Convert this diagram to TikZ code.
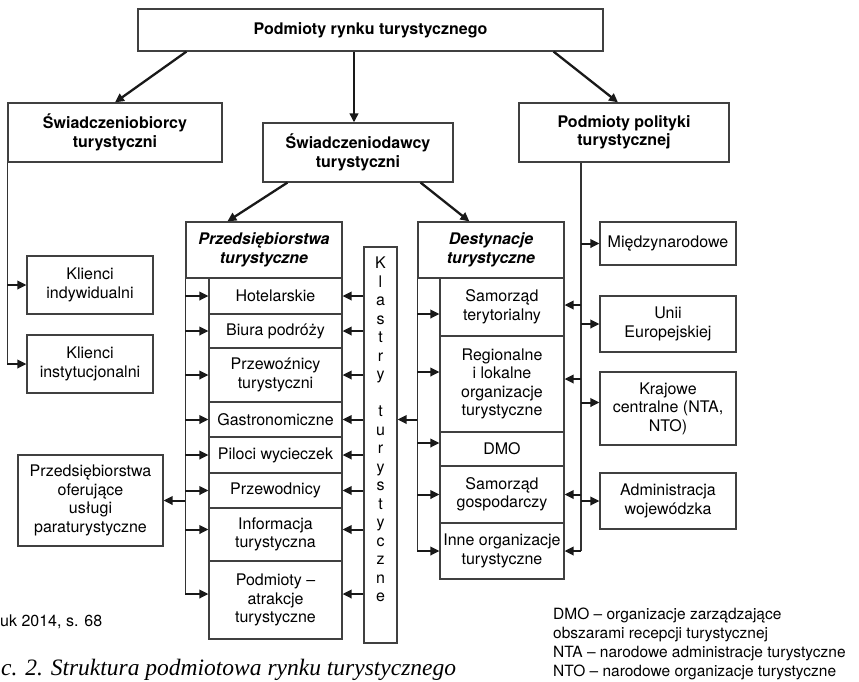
\documentclass[tikz,border=0pt]{standalone}
\usepackage{fontspec}
\setmainfont{TeX Gyre Heros}
\newfontfamily\capfont{Liberation Serif}
\usetikzlibrary{arrows.meta}

\begin{document}
\begin{tikzpicture}[x=1pt, y=-1pt,
    every node/.style={font=\fontsize{16}{18.5}\selectfont, inner sep=0pt, align=center},
    box/.style={draw=black!75, line width=1.2pt, fill=white},
    head/.style={box, font=\fontsize{16}{18.5}\selectfont\bfseries},
    trunk/.style={draw=black!80, line width=1.2pt},
    arr/.style={draw=black!90, line width=2pt, -{Triangle[length=9pt, width=8.5pt]}}]
    \useasboundingbox (0,0) rectangle (859,681);

    % gora
    \node[head, minimum width=465pt, minimum height=42pt] (top) at (370.5, 30) {Podmioty rynku turystycznego};
    \node[head, minimum width=214pt, minimum height=59pt] (sb) at (115, 132.5) {Świadczeniobiorcy\\turystyczni};
    \node[head, minimum width=190pt, minimum height=59pt] (sd) at (358, 152.5) {Świadczeniodawcy\\turystyczni};
    \node[head, minimum width=210pt, minimum height=59pt] (pp) at (624, 132.5) {Podmioty polityki\\turystycznej};

    % klienci
    \node[box, minimum width=126pt, minimum height=58pt] (ki) at (90, 285) {Klienci\\indywidualni};
    \node[box, minimum width=126pt, minimum height=58pt] (kin) at (90, 364) {Klienci\\instytucjonalni};
    \node[box, minimum width=145pt, minimum height=91pt] (pou) at (90.5, 500.5) {Przedsiębiorstwa\\oferujące\\usługi\\paraturystyczne};

    % przedsiebiorstwa
    \node[head, font=\fontsize{16}{18.5}\selectfont\bfseries\itshape, minimum width=156pt, minimum height=56pt] (przed) at (264, 250) {Przedsiębiorstwa\\turystyczne};
    \node[box, minimum width=133pt, minimum height=36pt] (hot) at (275.5, 296) {Hotelarskie};
    \node[box, minimum width=133pt, minimum height=34pt] (biu) at (275.5, 331) {Biura podróży};
    \node[box, minimum width=133pt, minimum height=54pt] (prz) at (275.5, 375) {Przewoźnicy\\turystyczni};
    \node[box, minimum width=133pt, minimum height=35pt] (gas) at (275.5, 419.5) {Gastronomiczne};
    \node[box, minimum width=133pt, minimum height=36pt] (pil) at (275.5, 455) {Piloci wycieczek};
    \node[box, minimum width=133pt, minimum height=35pt] (pwd) at (275.5, 490.5) {Przewodnicy};
    \node[box, minimum width=133pt, minimum height=53pt] (inf) at (275.5, 534.5) {Informacja\\turystyczna};
    \node[box, minimum width=133pt, minimum height=78pt] (atr) at (275.5, 600) {Podmioty --\\atrakcje\\turystyczne};

    % klastry
    \node[box, minimum width=33pt, minimum height=396pt] (kla) at (380.5, 445) {};
    \node[anchor=north] (klat) at (380.5, 257) {K\\l\\a\\s\\t\\r\\y\\[18.5pt]t\\u\\r\\y\\s\\t\\y\\c\\z\\n\\e};

    % destynacje
    \node[head, font=\fontsize{16}{18.5}\selectfont\bfseries\itshape, minimum width=146pt, minimum height=56pt] (dest) at (491, 250) {Destynacje\\turystyczne};
    \node[box, minimum width=124pt, minimum height=58pt] (st) at (502, 307) {Samorząd\\terytorialny};
    \node[box, minimum width=124pt, minimum height=96pt] (reg) at (502, 384) {Regionalne\\i lokalne\\organizacje\\turystyczne};
    \node[box, minimum width=124pt, minimum height=34pt] (dmo) at (502, 449) {DMO};
    \node[box, minimum width=124pt, minimum height=57pt] (sg) at (502, 494.5) {Samorząd\\gospodarczy};
    \node[box, minimum width=124pt, minimum height=56pt] (inne) at (502, 551) {Inne organizacje\\turystyczne};

    % polityka
    \node[box, minimum width=136pt, minimum height=43pt] (mie) at (668, 243.5) {Międzynarodowe};
    \node[box, minimum width=136pt, minimum height=56pt] (ue) at (668, 324) {Unii\\Europejskiej};
    \node[box, minimum width=136pt, minimum height=73pt] (kra) at (668, 408.5) {Krajowe\\centralne (NTA,\\NTO)};
    \node[box, minimum width=136pt, minimum height=56pt] (adm) at (668, 501) {Administracja\\wojewódzka};

    % opisy
    \node[anchor=base west] (src) at (0, 626) {uk 2014, s. 68};
    \node[anchor=north west, align=left, font=\fontsize{15.5}{19}\selectfont] (leg) at (553, 608) {DMO – organizacje zarządzające\\obszarami recepcji turystycznej\\NTA – narodowe administracje turystyczne\\NTO – narodowe organizacje turystyczne};
    \node[anchor=base west, font=\capfont\itshape\fontsize{23.5}{26}\selectfont] (cap) at (1, 675) {c. 2. Struktura podmiotowa rynku turystycznego};

    % punkty pomocnicze
    \coordinate (sdin) at ([xshift=-4pt]sd.north);
    \coordinate (ppt) at ([xshift=-43pt]pp.south);
    \coordinate (infl) at ([yshift=5pt]inf.west);
    \coordinate (atrl) at ([yshift=6pt]atr.west);
    \coordinate (stl) at ([yshift=-7pt]st.west);
    \coordinate (regl) at ([yshift=12pt]reg.west);
    \coordinate (dmol) at ([yshift=6pt]dmo.west);
    \coordinate (stp) at ([yshift=2pt]st.east);
    \coordinate (regp) at ([yshift=5pt]reg.east);
    \coordinate (krar) at ([yshift=6pt]kra.west);

    % strzalki glowne
    \draw[arr, line width=2.3pt] ([xshift=49pt]top.south west) -- (sb.north);
    \draw[arr, line width=2.3pt] (sdin |- top.south) -- (sdin);
    \draw[arr, line width=2.3pt] ([xshift=-50pt]top.south east) -- ([xshift=-6pt]pp.north);
    \draw[arr, line width=2.3pt] ([xshift=25pt]sd.south west) -- ([xshift=42pt]przed.north west);
    \draw[arr, line width=2.3pt] ([xshift=-33pt]sd.south east) -- ([xshift=52pt]dest.north west);

    % swiadczeniobiorcy
    \draw[trunk] (sb.south west) -- (sb.south west |- kin.west);
    \draw[arr] (sb.south west |- ki.west) -- (ki.west);
    \draw[arr] (sb.south west |- kin.west) -- (kin.west);

    % przedsiebiorstwa
    \draw[trunk] (przed.south west) -- (przed.south west |- atrl);
    \draw[arr] (przed.south west |- hot.west) -- (hot.west);
    \draw[arr] (przed.south west |- biu.west) -- (biu.west);
    \draw[arr] (przed.south west |- prz.west) -- (prz.west);
    \draw[arr] (przed.south west |- gas.west) -- (gas.west);
    \draw[arr] (przed.south west |- pil.west) -- (pil.west);
    \draw[arr] (przed.south west |- pwd.west) -- (pwd.west);
    \draw[arr] (przed.south west |- infl) -- (infl);
    \draw[arr] (przed.south west |- atrl) -- (atrl);
    \draw[arr] (przed.south west |- pou.east) -- (pou.east);

    % klastry
    \draw[arr] (kla.west |- hot.east) -- (hot.east);
    \draw[arr] (kla.west |- biu.east) -- (biu.east);
    \draw[arr] (kla.west |- prz.east) -- (prz.east);
    \draw[arr] (kla.west |- gas.east) -- (gas.east);
    \draw[arr] (kla.west |- pil.east) -- (pil.east);
    \draw[arr] (kla.west |- pwd.east) -- (pwd.east);
    \draw[arr] (kla.west |- infl) -- (inf.east |- infl);
    \draw[arr] (kla.west |- atrl) -- (atr.east |- atrl);

    % destynacje
    \draw[trunk] (dest.south west) -- (dest.south west |- inne.west);
    \draw[arr] (dest.south west |- gas.east) -- (kla.east |- gas.east);
    \draw[arr] (dest.south west |- stl) -- (stl);
    \draw[arr] (dest.south west |- regl) -- (regl);
    \draw[arr] (dest.south west |- dmol) -- (dmol);
    \draw[arr] (dest.south west |- sg.west) -- (sg.west);
    \draw[arr] (dest.south west |- inne.west) -- (inne.west);

    % polityka
    \draw[trunk] (ppt) -- (ppt |- inne.east);
    \draw[arr] (ppt |- mie.west) -- (mie.west);
    \draw[arr] (ppt |- ue.west) -- (ue.west);
    \draw[arr] (ppt |- krar) -- (krar);
    \draw[arr] (ppt |- adm.west) -- (adm.west);
    \draw[arr] (ppt |- stp) -- (stp);
    \draw[arr] (ppt |- regp) -- (regp);
    \draw[arr] (ppt |- sg.east) -- (sg.east);
    \draw[arr] (ppt |- inne.east) -- (inne.east);
\end{tikzpicture}
\end{document}
